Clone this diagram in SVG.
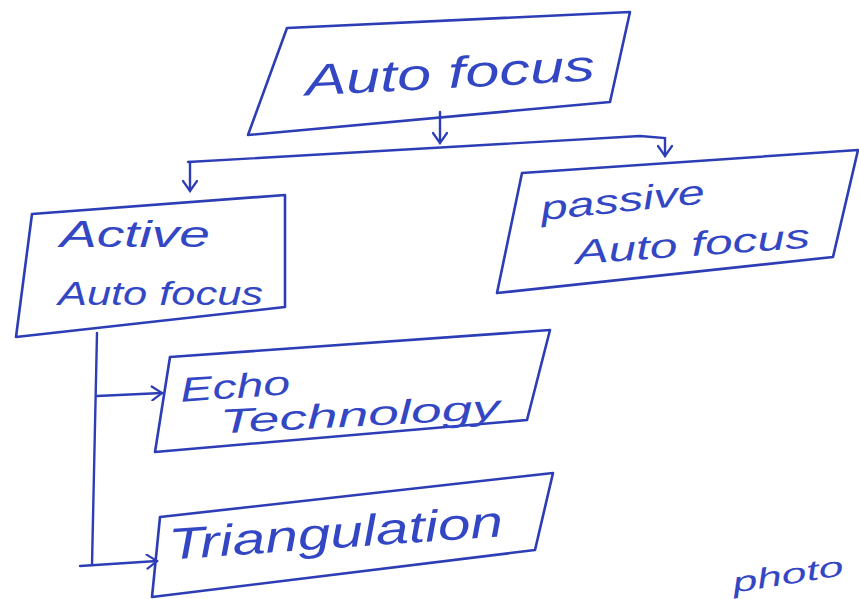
<svg xmlns="http://www.w3.org/2000/svg" width="859" height="599" viewBox="0 0 859 599">
<style>
.box{fill:none;stroke:#2c3db5;stroke-width:2.6;stroke-linejoin:round;stroke-linecap:round}
.con{fill:none;stroke:#2c3db5;stroke-width:2.4;stroke-linecap:round}
.t{font-family:"Liberation Sans",Arial,sans-serif;font-style:italic;fill:#3347c4}
</style>
<defs>
<marker id="arr" viewBox="-12 -8 14 16" markerWidth="14" markerHeight="16" refX="0" refY="0" orient="auto" markerUnits="userSpaceOnUse">
<path d="M-10,-7 L0,0 L-10,7" fill="none" stroke="#2c3db5" stroke-width="2.2" stroke-linecap="round"/>
</marker>
</defs>
<rect width="859" height="599" fill="#ffffff"/>
<g id="connectors">
<path class="con" d="M440,112 L440,143" marker-end="url(#arr)"/>
<path class="con" d="M188,162 L640,136 L665,138 L665,156" marker-end="url(#arr)"/>
<path class="con" d="M190,162 L190,191" marker-end="url(#arr)"/>
<path class="con" d="M97,333 L92,565"/>
<path class="con" d="M97,396 L162,393" marker-end="url(#arr)"/>
<path class="con" d="M80,566 L157,561" marker-end="url(#arr)"/>
</g>
<g id="autofocus">
<path class="box" d="M287,28 L630,12 L610,102 L248,135 Z"/>
<text class="t" x="305" y="88" font-size="44" textLength="290" lengthAdjust="spacingAndGlyphs" transform="rotate(-3 450 75)">Auto focus</text>
</g>
<g id="active">
<path class="box" d="M32,214 L285,195 L285,307 L16,337 Z"/>
<text class="t" x="60" y="247" font-size="36" textLength="150" lengthAdjust="spacingAndGlyphs">Active</text>
<text class="t" x="58" y="305" font-size="34" textLength="205" lengthAdjust="spacingAndGlyphs">Auto focus</text>
</g>
<g id="passive">
<path class="box" d="M522,173 L858,150 L833,257 L497,293 Z"/>
<text class="t" x="540" y="212" font-size="34" textLength="165" lengthAdjust="spacingAndGlyphs" transform="rotate(-6 620 200)">passive</text>
<text class="t" x="575" y="256" font-size="34" textLength="235" lengthAdjust="spacingAndGlyphs" transform="rotate(-4 690 245)">Auto focus</text>
</g>
<g id="echo">
<path class="box" d="M170,357 L550,330 L527,420 L155,452 Z"/>
<text class="t" x="180" y="398" font-size="34" textLength="110" lengthAdjust="spacingAndGlyphs" transform="rotate(-4 235 385)">Echo</text>
<text class="t" x="220" y="426" font-size="34" textLength="280" lengthAdjust="spacingAndGlyphs" transform="rotate(-3 360 415)">Technology</text>
</g>
<g id="triangulation">
<path class="box" d="M160,517 L553,473 L535,550 L152,597 Z"/>
<text class="t" x="168" y="548" font-size="44" textLength="335" lengthAdjust="spacingAndGlyphs" transform="rotate(-4 335 530)">Triangulation</text>
</g>
<text class="t" x="732" y="584" font-size="28" textLength="112" lengthAdjust="spacingAndGlyphs" transform="rotate(-9 788 576)">photo</text>
</svg>
